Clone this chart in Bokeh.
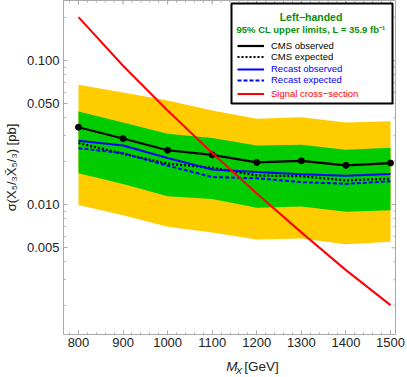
import math
from bokeh.plotting import figure
from bokeh.layouts import column
from bokeh.core.properties import value
from bokeh.models import (FixedTicker, PrintfTickFormatter, Range1d,
                          Legend, LegendItem, Label, BoxAnnotation)
from bokeh.embed import file_html
from bokeh.resources import INLINE

# ---- data ----
mass = [800, 900, 1000, 1100, 1200, 1300, 1400, 1500]
cms_observed = [0.0344, 0.0287, 0.0238, 0.0221, 0.0196, 0.0201, 0.0187, 0.0194]
cms_expected = [0.0267, 0.0225, 0.0192, 0.0180, 0.0159, 0.0157, 0.0147, 0.0151]
band1_low = [0.0165, 0.0139, 0.0114, 0.0109, 0.0095, 0.0097, 0.0089, 0.0091]
band1_high = [0.0442, 0.0371, 0.0310, 0.0290, 0.0257, 0.0260, 0.0240, 0.0248]
band2_low = [0.0099, 0.0084, 0.0070, 0.0064, 0.0057, 0.0058, 0.0053, 0.0055]
band2_high = [0.0678, 0.0600, 0.0527, 0.0450, 0.0394, 0.0404, 0.0371, 0.0379]
recast_observed = [0.0277, 0.0257, 0.0210, 0.0175, 0.0168, 0.0162, 0.0158, 0.0163]
recast_expected = [0.0246, 0.0227, 0.0186, 0.0155, 0.0152, 0.0143, 0.0139, 0.0145]
signal_xsec = [0.200, 0.092, 0.045, 0.0228, 0.0119, 0.0064, 0.0035, 0.0020]

x_major = [800, 900, 1000, 1100, 1200, 1300, 1400, 1500]
x_minor = list(range(780, 1520, 20))
y_major = [0.005, 0.01, 0.05, 0.1]
y_minor = [0.002, 0.003, 0.004, 0.006, 0.007, 0.008, 0.009,
           0.02, 0.03, 0.04, 0.06, 0.07, 0.08, 0.09, 0.2]

X_LO, X_HI = 766.4, 1511.2
Y_LO, Y_HI = 0.00125, 0.261

FONT = "Liberation Sans"
YELLOW = "#FFCC00"
GREEN = "#00CC00"
DKGREEN = "#0A8F0A"
AX = "#AAAAAA"
TXT = "#222222"

W = 406
p = figure(width=W, height=352, y_axis_type="log",
           x_range=Range1d(X_LO, X_HI), y_range=Range1d(Y_LO, Y_HI),
           output_backend="svg", toolbar_location=None,
           min_border_left=62, min_border_right=11, min_border_top=0, min_border_bottom=18)
p.xgrid.visible = False
p.ygrid.visible = False
p.outline_line_color = AX
p.outline_line_width = 1
p.background_fill_color = "white"

# bands
p.varea(x=mass, y1=band2_low, y2=band2_high, fill_color=YELLOW)
p.varea(x=mass, y1=band1_low, y2=band1_high, fill_color=GREEN)

r_obs = p.line(mass, cms_observed, line_color="black", line_width=2.2)
p.scatter(mass, cms_observed, size=6, marker="circle", fill_color="black", line_color="black")
r_exp = p.line(mass, cms_expected, line_color="black", line_width=2.2, line_dash="2 2")
r_robs = p.line(mass, recast_observed, line_color="#0000FF", line_width=2)
r_rexp = p.line(mass, recast_expected, line_color="#0000FF", line_width=2, line_dash="4 2")
r_sig = p.line(mass, signal_xsec, line_color="#FF0000", line_width=2)

# frame ticks on the top and right edges (pointing inward)
p.ray(x=x_major, y=[Y_HI] * len(x_major), length=4, length_units="screen",
      angle=-math.pi / 2, line_color=AX, line_width=1)
p.ray(x=x_minor, y=[Y_HI] * len(x_minor), length=2, length_units="screen",
      angle=-math.pi / 2, line_color=AX, line_width=1)
p.ray(x=[X_HI] * len(y_major), y=y_major, length=4, length_units="screen",
      angle=math.pi, line_color=AX, line_width=1)
p.ray(x=[X_HI] * len(y_minor), y=y_minor, length=2, length_units="screen",
      angle=math.pi, line_color=AX, line_width=1)


def style(ax):
    ax.axis_line_color = AX
    ax.axis_line_width = 1
    ax.major_tick_line_color = AX
    ax.minor_tick_line_color = AX
    ax.major_tick_in = 4
    ax.major_tick_out = 0
    ax.minor_tick_in = 2
    ax.minor_tick_out = 0
    ax.major_label_text_font = FONT
    ax.major_label_text_font_size = "13px"
    ax.major_label_text_color = TXT
    ax.axis_label_text_font = FONT
    ax.axis_label_text_font_size = "13px"
    ax.axis_label_text_font_style = "normal"
    ax.axis_label_text_color = TXT


p.xaxis.ticker = FixedTicker(ticks=x_major, minor_ticks=x_minor)
p.yaxis.ticker = FixedTicker(ticks=y_major, minor_ticks=y_minor)
p.yaxis.formatter = PrintfTickFormatter(format="%.3f")
style(p.xaxis[0])
style(p.yaxis[0])
p.yaxis.major_label_standoff = 4
p.yaxis.axis_label = "\u03c3(X\u2085/\u2083X\u0304\u2085/\u2083) [pb]"
p.yaxis.axis_label_standoff = 5
p.xaxis.major_label_standoff = 3

# legend frame
p.add_layout(BoxAnnotation(left=168, right=329, top=331, bottom=231,
                           left_units="screen", right_units="screen",
                           top_units="screen", bottom_units="screen",
                           fill_color="white", fill_alpha=1,
                           line_color="black", line_width=2, line_alpha=1))
p.add_layout(Label(x=247.5, y=318, x_units="screen", y_units="screen",
                   text="Left\u2212handed", text_font=FONT, text_font_size="10.5px",
                   text_font_style="bold", text_color=DKGREEN,
                   text_align="center", text_baseline="middle"))
p.add_layout(Label(x=247.5, y=304.7, x_units="screen", y_units="screen",
                   text="95% CL upper limits, L = 35.9 fb\u207b\u00b9", text_font=FONT,
                   text_font_size="9.5px", text_font_style="bold", text_color=DKGREEN,
                   text_align="center", text_baseline="middle"))


def make_legend(items, loc, color, h):
    lg = Legend(items=items, location=loc, orientation="vertical",
                label_text_font=FONT, label_text_font_size="9.5px",
                label_text_color=color, glyph_width=27, glyph_height=h,
                label_height=h, label_standoff=7, padding=0, spacing=0,
                margin=0, border_line_alpha=0, background_fill_alpha=0)
    p.add_layout(lg, "center")


make_legend([LegendItem(label="CMS observed", renderers=[r_obs]),
             LegendItem(label="CMS expected", renderers=[r_exp])], (174, 271.8), "black", 11)
make_legend([LegendItem(label="Recast observed", renderers=[r_robs]),
             LegendItem(label="Recast expected", renderers=[r_rexp])], (174, 248.7), "#0000FF", 10)
make_legend([LegendItem(label="Signal cross\u2212section", renderers=[r_sig])], (174, 235.2), "#FF0000", 11)

# x-axis title strip: M_X [GeV]
q = figure(width=W, height=24, x_range=Range1d(0, W), y_range=Range1d(0, 24),
           output_backend="svg", toolbar_location=None, min_border=0,
           x_axis_location=None, y_axis_location=None)
q.outline_line_color = None
q.xgrid.visible = False
q.ygrid.visible = False
q.text(x=[199], y=[10], text=["M"], text_font=value(FONT), text_font_size="13.5px",
       text_font_style="italic", text_baseline="middle", text_align="left", text_color=TXT)
q.text(x=[210.5], y=[6.5], text=["X"], text_font=value(FONT), text_font_size="9.5px",
       text_font_style="italic", text_baseline="middle", text_align="left", text_color=TXT)
q.text(x=[221], y=[10], text=["[GeV]"], text_font=value(FONT), text_font_size="13.5px",
       text_baseline="middle", text_align="left", text_color=TXT)

open("out.html", "w").write(file_html(column(p, q, spacing=0), INLINE))
